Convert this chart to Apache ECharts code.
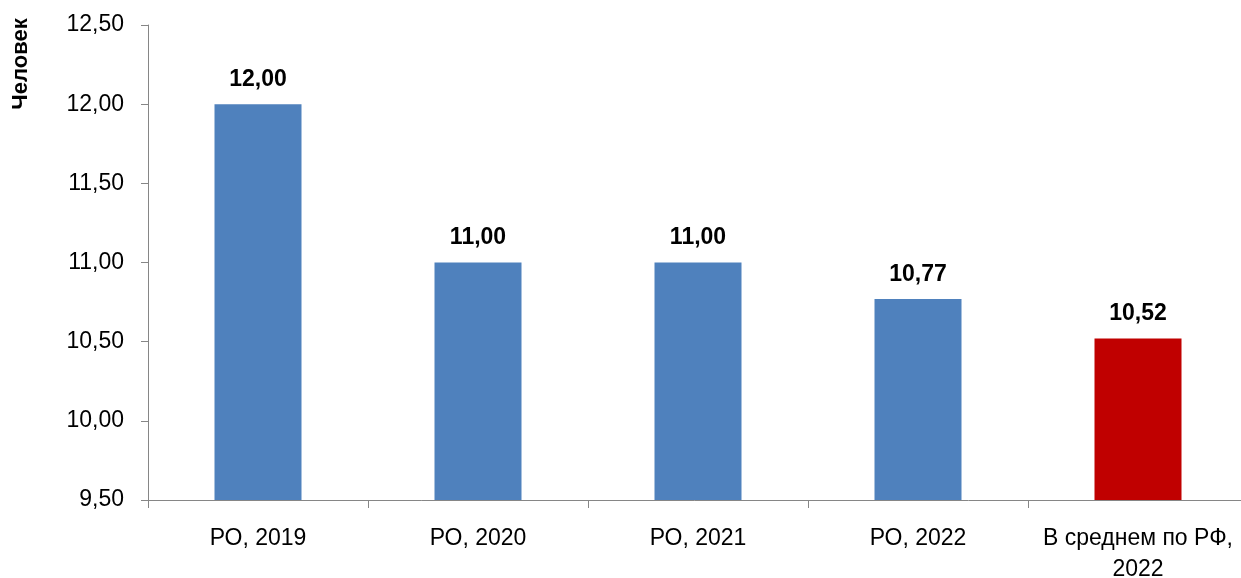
<!DOCTYPE html>
<html><head><meta charset="utf-8">
<script src="https://cdn.jsdelivr.net/npm/echarts@6/dist/echarts.min.js"></script>
<style>html,body{margin:0;padding:0;background:#fff}#c{width:1241px;height:578px}</style>
</head><body><div id="c"></div>
<script>
const categories = ['РО, 2019', 'РО, 2020', 'РО, 2021', 'РО, 2022', 'В среднем по РФ,\n2022'];
const values = [12.00, 11.00, 11.00, 10.77, 10.52];
const barColors = ['#4F81BD', '#4F81BD', '#4F81BD', '#4F81BD', '#C00000'];
const yTicks = [9.5, 10, 10.5, 11, 11.5, 12, 12.5];
const axisTitle = 'Человек';

const fmt = v => v.toFixed(2).replace('.', ',');
const chart = echarts.init(document.getElementById('c'));
const FONT = 'Liberation Sans';
chart.setOption({
  animation: false,
  grid: { left: 148, top: 25, width: 1100, height: 475, containLabel: false, outerBoundsMode: 'none' },
  graphic: [{
    type: 'text', x: 21, y: 64, rotation: Math.PI / 2,
    style: { text: axisTitle, font: 'bold 22px "Liberation Sans"', fill: '#000', align: 'center', verticalAlign: 'middle' }
  }],
  xAxis: {
    type: 'category', data: categories,
    axisLine: { lineStyle: { color: '#868686', width: 1 } },
    axisTick: { show: true, length: 8, alignWithLabel: false, lineStyle: { color: '#868686' } },
    axisLabel: { color: '#000', fontFamily: FONT, fontSize: 23, margin: 23, lineHeight: 31, interval: 0 }
  },
  yAxis: {
    type: 'value', min: yTicks[0], max: yTicks[yTicks.length - 1], interval: 0.5,
    axisLine: { show: true, lineStyle: { color: '#868686', width: 1 } },
    axisTick: { show: true, length: 7, lineStyle: { color: '#868686' } },
    splitLine: { show: false },
    axisLabel: { color: '#000', fontFamily: FONT, fontSize: 23, margin: 24, formatter: v => fmt(v) }
  },
  series: [{
    type: 'bar', barWidth: 87,
    data: values.map((v, i) => ({ value: v, itemStyle: { color: barColors[i] } })),
    label: {
      show: true, position: 'top', distance: 13, color: '#000',
      fontFamily: FONT, fontWeight: 'bold', fontSize: 23,
      formatter: p => fmt(p.value)
    }
  }]
});
</script></body></html>
